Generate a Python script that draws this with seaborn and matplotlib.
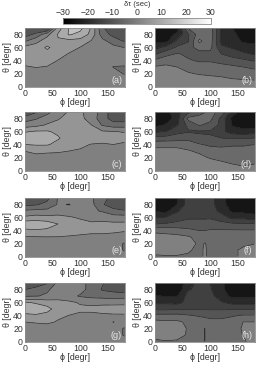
import numpy as np
import matplotlib
matplotlib.use("Agg")
import matplotlib.pyplot as plt
import seaborn as sns

sns.set_theme(style="ticks")
plt.rcParams['font.family'] = ['Liberation Sans', 'DejaVu Sans']

phi = [0, 20, 40, 60, 80, 100, 120, 140, 160, 180]
phi_spike = [0, 20, 40, 60, 80, 90, 100, 120, 140, 160, 180]
theta = [0, 10, 20, 30, 40, 50, 60, 70, 80, 90]
tick_x = [0, 50, 100, 150]
tick_y = [0, 20, 40, 60, 80]
cbar_ticks = [-30, -20, -10, 0, 10, 20, 30]
levels = [-32.5, -27.5, -22.5, -17.5, -12.5, -7.5, -2.5, 2.5, 7.5, 12.5, 17.5, 22.5, 27.5, 32.5]
labels = ["(a)", "(b)", "(c)", "(d)", "(e)", "(f)", "(g)", "(h)"]

# every inner list is one column of constant phi, theta rising from 0 to 90
panel_a = [
 [0, 0, 0, 2, 4.5, 5, 4, -3, -10, -12],
 [0, 0, 0.5, 2.7, 5, 5, 5, 1, -6, -13],
 [0, 0, 0.5, 2.2, 5, 6, 8.2, 5, 1, -15],
 [0, 0, 0.5, 1.5, 2.3, 5, 5.5, 7, 8, 5],
 [0, 0, 0, 0.5, 0.5, 2, 5, 6, 13, 13],
 [0, 0, 0, 0, 0.5, 0.5, 2.3, 5.5, 11, 14],
 [0, 0, 0, 0, 0, 0.5, 0.5, 2.2, 6, 7],
 [0, 0, 0, 0, 0, 0, -0.5, -1, -5, -7],
 [0, 0, 0, -2.7, 0, 0, -1, -5, -9, -10],
 [0, 0, -3, -3, 0, 0, -2.6, -8, -10, -10]]
panel_b = [
 [0, 0, 0, -2, -6.5, -13, -19, -23.5, -25, -25],
 [0, 0, 0, -1.5, -4.5, -9, -16, -24, -25, -25],
 [0, 0, 0, -2.5, -5, -7, -11.5, -16.5, -21.5, -25],
 [0, 0, -2, -4.5, -7, -8.5, -10, -13, -13, -7],
 [0, 0, -3, -5.5, -8, -10, -5, -1.5, -5, -3],
 [0, -0.5, -3.5, -5.5, -8, -9, -6, -5, -4, -5],
 [0, -1, -4, -6, -9, -12.5, -16.5, -19, -19, -18],
 [0, -2, -4.5, -6.5, -10.5, -14.5, -18, -20, -21, -22.5],
 [0, -2.3, -5, -7.5, -11.5, -16.5, -20, -23.5, -25, -25],
 [0, -2.5, -5.5, -8.5, -13, -18, -21, -23.5, -25, -25]]
panel_c = [
 [0, 0, 0.5, 2.6, 7.5, 11, 7, 0, -5, -12],
 [0, 0, 1.5, 3.3, 8, 11, 8, 1, -3, -8],
 [0, 0, 1, 3.2, 8, 10.5, 8, 3, 0, -4],
 [0, 0, 1, 3, 6, 8, 6.5, 4.5, 2, 0],
 [0, 0, 1, 2.5, 4, 5, 6, 6, 5, 3],
 [0, 0, 1, 2, 3.5, 5, 6, 5, 4, 3],
 [0, 0, 0.5, 1, 2.3, 5, 5, 2.6, 0, 1],
 [0, 0, 0.5, 1, 2, 4.5, 3, -3, -5, -5],
 [0, 0, 0.5, 1, 2.5, 4, 2.6, -5, -10, -10],
 [0, 0, 0.5, 1, 2, 3.5, 2.3, -5, -10, -10]]
panel_d = [
 [0, 0, 0, -1, -4, -11, -18.5, -24, -25, -25],
 [0, 0, 0, -1, -4, -10.5, -17.5, -22, -25, -25],
 [0, 0, 0, -1, -4, -10, -14, -18, -20, -19],
 [0, 0, 0, -2, -5, -9, -13, -11, -6, -14],
 [0, 0, -1, -3.5, -7, -11.5, -13, -7, -5, -10],
 [0, 0, -3, -5, -8.5, -12, -13, -9, -6, -6],
 [0, -1.5, -3.8, -6, -8.5, -12.5, -16, -14, -14, -9],
 [-1, -2.5, -4, -6, -8, -13, -20, -23, -24, -20],
 [-1, -3.2, -4, -6, -8, -13, -21, -25, -25, -25],
 [-1, -2.5, -4, -6, -7.5, -12.5, -20, -25, -25, -25]]
panel_e = [
 [0, 0, 0, 2, 6.5, 11, 3.5, -1.5, -9, -11],
 [0, 0, 0, 2.3, 7, 11, 4.5, -1, -8, -11],
 [0, 0, 0, 2.4, 6.5, 10, 4, -1, -6, -9],
 [0, 0, 0, 2.4, 5, 7.5, 4, 0, -2, -2],
 [0, 0, 0, 2.2, 4, 5, 3, 0, -2.7, 0],
 [0, 0, 0, 2, 3.5, 4, 2, -1, 0, 0],
 [0, 0, 0, 2, 3, 3, 1.5, -1.5, -1, -2],
 [0, 0, 0, 2, 3, 3.5, 1, -3, -7, -5],
 [0, 0, 0, 2, 2.8, 3.5, 0, -6, -10, -10],
 [0, -3, -3, 2, 2.6, 3.5, 0, -7, -11, -11]]
panel_f = [
 [-3, -1, 0, 0, -4, -12.5, -18, -23, -26, -26],
 [-3, 0, 0, -1, -4, -12, -17, -24, -26, -26],
 [-3, 0, 0, -1, -5, -11, -15, -18, -22.5, -23],
 [-3, -2, 0, -2, -6, -11, -13, -15, -15, -15],
 [-3.5, -3.5, -3.5, -4, -7.5, -11, -13, -14, -14, -14],
 [-2, -2, -2.3, -4, -7.5, -11, -13, -14, -14, -14],
 [-3.5, -3.5, -3.5, -3.5, -7, -10.5, -13, -15, -16, -16],
 [-4, -4, -4, -4, -7, -11, -15, -19, -20, -20],
 [-3, -3, -3, -3, -7, -11.5, -19, -23.5, -26, -26],
 [-2, -2, -3, -4, -7, -12, -19, -24, -26, -26],
 [-1, -1, -2.6, -4, -7, -12, -20, -25, -26, -26]]
panel_g = [
 [0, 0, 0, 2.5, 6.5, 10, 8, -3, -7.5, -10],
 [0, 0, 0, 3, 7, 10, 7, -2.7, -6, -10],
 [0, 0, 0, 3.5, 6, 9, 5.5, -2, -3, -8],
 [0, 0, 0, 2, 3.5, 5.5, 5, -1, -1, -1],
 [0, 0, 0, 1.5, 2.4, 4.5, 3.5, -1, 0, 0],
 [0, 0, 0, 1, 1.5, 3.5, 2, -3, -1, -1],
 [0, 0, 0, 1, 1.5, 3.5, 1.5, -4, -4, -4],
 [0, 0, 0, 1, 1.8, 4, 1.5, -4.5, -8, -7],
 [0, 0, 0, -2.7, 1.8, 5, 1, -5, -9, -10],
 [0, -3, -3, 1, 1.8, 5.2, 1, -5, -10, -10]]
panel_h = [
 [-3, -1.5, 0, -1, -6, -13.5, -18.5, -22, -25, -25],
 [-2.7, -1, 0, -1.5, -6, -13.5, -18.5, -23, -25, -25],
 [-3, -1, 0, -1.5, -6, -13, -19, -23, -26, -26],
 [-3.5, -3, -3, -3.5, -7, -13, -16, -15.5, -18, -20],
 [-3.5, -4, -4, -5, -8, -13, -16, -16, -16, -16],
 [-2.4, -2.4, -2.4, -5, -8.5, -13, -16, -16, -16, -16],
 [-4, -4, -4, -6, -9, -13, -16, -16, -17, -17.5],
 [-4, -4, -4, -6, -9, -13, -17, -20, -21, -21],
 [-3.5, -3.5, -3.5, -5, -8, -13, -19, -24, -26, -26],
 [-3, -2.4, -2.2, -2.4, -7, -13, -19, -24, -26, -26],
 [-1, -1.5, -1, -2.4, -7, -13, -19, -24, -26, -26]]
panels = [panel_a, panel_b, panel_c, panel_d, panel_e, panel_f, panel_g, panel_h]

W, H = 269.0, 373.0
lefts = [25, 155]
tops = [28, 112, 198, 283]
aw, ah = 99.5, 58.5
cmap = sns.color_palette("gray", as_cmap=True)
grid_col = "#8c8c8c"
text_col = "#333333"

fig = plt.figure(figsize=(W / 100, H / 100), dpi=100, facecolor="white")
for i, cols in enumerate(panels):
    r, c = i // 2, i % 2
    ax = fig.add_axes([lefts[c] / W, 1 - (tops[r] + ah) / H, aw / W, ah / H])
    z = np.array(cols, float).T
    x = phi_spike if z.shape[1] == len(phi_spike) else phi
    ax.contourf(x, theta, z, levels=levels, cmap=cmap, vmin=-30, vmax=30)
    ax.contour(x, theta, z, levels=levels, colors="#222222",
               linewidths=0.45, linestyles="solid")
    ax.set_xlim(0, 180)
    ax.set_ylim(0, 90)
    ax.set_xticks(tick_x)
    ax.set_yticks(tick_y)
    ax.tick_params(direction="in", length=1.5, width=0.4, labelsize=6.3, pad=1.5,
                   colors=text_col, color=grid_col)
    for s in ax.spines.values():
        s.set_color(grid_col)
        s.set_linewidth(0.6)
    ax.set_xlabel("ϕ [degr]", fontsize=6.3, labelpad=0.5, color=text_col)
    ax.set_ylabel("θ [degr]", fontsize=6.3, labelpad=0.5, color=text_col)
    ax.text(0.975, 0.1, labels[i], transform=ax.transAxes, ha="right", va="center",
            fontsize=6.5, color="#e8e8e8")

cax = fig.add_axes([63 / W, 1 - 24 / H, 148 / W, 6 / H])
sm = matplotlib.cm.ScalarMappable(norm=plt.Normalize(-30, 30), cmap=cmap)
cb = fig.colorbar(sm, cax=cax, orientation="horizontal", ticks=cbar_ticks)
cax.xaxis.set_ticks_position("top")
cax.tick_params(direction="in", length=1.5, width=0.4, labelsize=6.3, pad=0.5,
                colors=text_col, color=grid_col)
cb.outline.set_edgecolor(grid_col)
cb.outline.set_linewidth(0.6)
fig.text(137 / W, 1 - 4.5 / H, "δτ (sec)", ha="center", va="center", fontsize=5.5, color=text_col)

fig.savefig("out.png", dpi=100)
